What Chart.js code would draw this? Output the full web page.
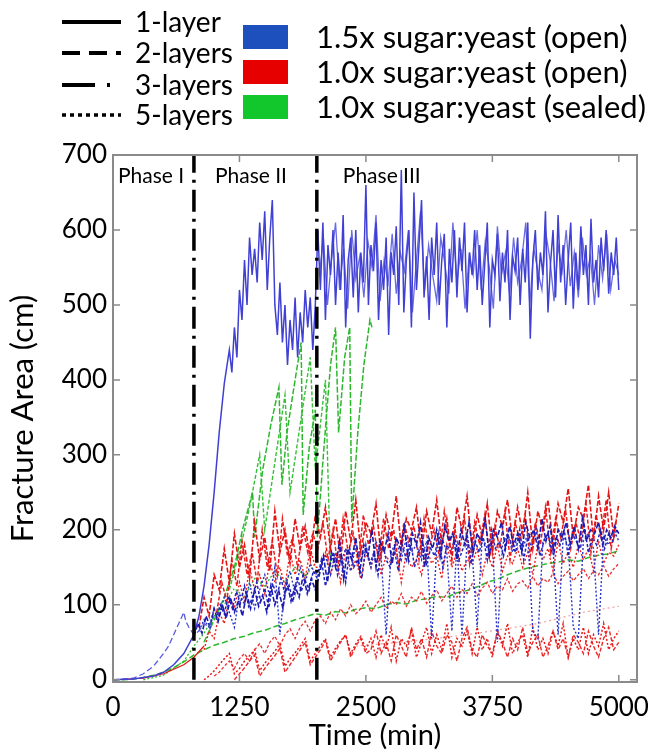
<!DOCTYPE html>
<html>
<head>
<meta charset="utf-8">
<script src="https://cdn.jsdelivr.net/npm/chart.js@4.4.1/dist/chart.umd.min.js"></script>
<style>
  body { margin: 0; background: #fff; }
  canvas { display: block; }
</style>
</head>
<body>
<canvas id="fractureChart" width="666" height="753"></canvas>
<script>
var X_TICKS = [0, 1250, 2500, 3750, 5000];
var Y_TICKS = [0, 100, 200, 300, 400, 500, 600, 700];
var PHASE_TIMES = [800, 2015];
var PHASE_NAMES = ['Phase I', 'Phase II', 'Phase III'];
var LAYER_NAMES = ['1-layer', '2-layers', '3-layers', '5-layers'];
var GROUP_NAMES = ['1.5x sugar:yeast (open)', '1.0x sugar:yeast (open)', '1.0x sugar:yeast (sealed)'];
var GROUP_COLORS = ['#1d4fbd', '#e60000', '#12c72c'];

// sampling grid helper (times only)
function steps(start, end, step) {
  var out = [];
  for (var t = start; t <= end; t += step) out.push(t);
  return out;
}

// 1.5x open, 1-layer (big one)
var blueSolidTimes = [0, 200, 400, 500, 600, 700, 800, 850, 900, 950, 1000, 1050, 1100, 1150].concat(steps(1175, 5000, 25));
var blueSolidVals = [0, 1, 5, 10, 20, 35, 60, 85, 125, 180, 250, 330, 395, 440,
  410, 470, 430, 520, 480, 560, 500, 590, 540, 575, 530, 610, 560, 625, 520, 590, 640, 500, 460, 530,
  450, 500, 420, 480, 440, 510, 430, 490, 450, 520, 470, 510, 440, 500,
  600, 520, 610, 480, 580, 540, 600, 500, 570, 520, 620, 470, 560, 590, 510, 600, 490, 570, 530, 660,
  500, 580, 545, 610, 480, 560, 520, 590, 460, 570, 540, 605, 500, 680, 490, 560, 600, 470, 650, 520,
  580, 640, 510, 565, 480, 590, 540, 610, 500, 560, 595, 470, 575, 530, 600, 510, 590, 545, 610, 490,
  570, 540, 600, 520, 580, 500, 555, 610, 470, 560, 540, 595, 505, 570, 530, 600, 480, 565, 545, 590,
  500, 575, 530, 610, 455, 560, 600, 520, 570, 540, 625, 490, 555, 600, 510, 620, 530, 580, 500, 560,
  610, 495, 570, 520, 605, 540, 580, 500, 615, 530, 560, 510, 590, 545, 600, 515, 570, 540, 590, 520];

var blueSolid2Times = steps(2040, 5000, 40);
var blueSolid2Vals = [540, 590, 500, 560, 610, 520, 575, 495, 600, 535, 565, 510, 585, 550, 620, 505, 560, 530, 595, 515,
  570, 545, 600, 490, 560, 625, 520, 580, 540, 505, 590, 555, 515, 610, 530, 575, 495, 565, 540, 600,
  520, 585, 550, 495, 605, 540, 570, 515, 590, 530, 560, 610, 500, 575, 545, 520, 595, 560, 505, 580,
  545, 600, 525, 570, 510, 590, 540, 565, 500, 580, 535, 595, 520, 560, 540];

// 1.5x open, multi-layer bands
var blueDashTimes = steps(800, 5000, 40);
var blueDashVals = [58, 75, 62, 85, 70, 95, 78, 100, 82, 110, 90, 105, 85, 115, 95, 120, 98, 112, 90, 125, 100, 118, 95, 130, 105, 125, 110, 140, 115, 135, 120,
  140, 165, 130, 170, 150, 185, 135, 175, 160, 190, 145, 180, 165, 200, 150, 185, 170, 195, 155, 190,
  175, 205, 160, 195, 180, 210, 150, 190, 175, 200, 165, 205, 185, 195, 160, 200, 180, 210, 170, 195,
  185, 215, 165, 200, 190, 210, 175, 205, 180, 195, 170, 210, 190, 200, 175, 215, 185, 205, 170, 200,
  190, 210, 180, 205, 175, 215, 185, 200, 195, 210, 180, 200, 190, 205, 195];

var blueDash2Times = steps(1020, 5000, 40);
var blueDash2Vals = [80, 100, 88, 112, 95, 118, 102, 125, 98, 110, 130, 105, 122, 96, 128, 110, 135, 115, 126, 104, 138, 118, 132, 120, 145,
  135, 160, 125, 150, 170, 140, 165, 130, 175, 150, 160, 135, 180, 155, 170, 140, 185, 160, 150, 175,
  145, 180, 160, 190, 150, 170, 185, 155, 175, 165, 195, 150, 180, 170, 190, 160, 175, 195, 155, 185,
  170, 190, 160, 200, 175, 185, 165, 195, 180, 170, 200, 160, 190, 175, 205, 165, 185, 195, 170, 190,
  180, 200, 165, 195, 185, 175, 205, 170, 190, 180, 200, 175, 195, 185, 200];

var blueDotTimes = steps(850, 5000, 50);
var blueDotVals = [65, 80, 70, 95, 85, 110, 90, 70, 115, 100, 130, 95, 120, 140, 110, 150, 60, 125, 145, 115, 150, 130, 155, 140,
  150, 165, 140, 170, 155, 175, 145, 180, 160, 175, 150, 185, 165, 60, 170, 185, 160, 190, 170, 180,
  160, 185, 55, 175, 190, 170, 65, 180, 60, 185, 170, 70, 190, 175, 185, 50, 180, 195, 170, 190,
  175, 195, 65, 55, 185, 195, 175, 60, 190, 180, 70, 55, 185, 195, 175, 60, 190, 180, 200, 185];

var blueEarlyTimes = [0, 200, 300, 400, 500, 550, 600, 650, 700, 720, 750, 800, 850, 900, 950, 1000];
var blueEarlyVals = [0, 2, 8, 18, 35, 45, 60, 75, 90, 78, 70, 60, 65, 75, 70, 85];

// 1.0x open
var redDashTimes = steps(850, 5000, 50);
var redDashVals = [70, 110, 85, 140, 120, 175, 130, 195, 150, 180, 135, 210, 160, 190, 145, 225, 170, 200, 155, 215, 175, 205, 160, 220,
  190, 230, 175, 215, 160, 225, 185, 240, 170, 210, 195, 235, 165, 220, 190, 245, 175, 215, 200, 230,
  170, 225, 195, 240, 180, 215, 160, 230, 200, 245, 175, 220, 190, 235, 170, 225, 205, 240, 185, 230,
  195, 250, 175, 225, 200, 240, 180, 235, 210, 255, 190, 230, 215, 260, 185, 245, 200, 250, 190, 235];

var redDash2Times = steps(1025, 5000, 50);
var redDash2Vals = [90, 130, 105, 160, 125, 185, 140, 170, 130, 200, 150, 185, 140, 215, 165, 190, 150, 205, 170, 195,
  175, 210, 160, 200, 150, 215, 170, 195, 155, 220, 180, 205, 160, 215, 175, 200, 150, 210, 185, 205,
  160, 215, 175, 200, 165, 225, 180, 205, 170, 215, 155, 210, 180, 220, 165, 205, 175, 225, 160, 210,
  185, 220, 165, 210, 180, 230, 170, 215, 190, 225, 175, 210, 185, 235, 170, 220, 190, 240, 175, 215];

var redDotTimes = steps(900, 5000, 50);
var redDotVals = [40, 65, 55, 90, 75, 110, 95, 130, 105, 150, 120, 140, 115, 160, 130, 150, 125, 170, 140, 160, 135, 175, 150,
  150, 170, 140, 165, 130, 175, 145, 160, 135, 170, 150, 180, 140, 165, 155, 175, 130, 170, 150, 160,
  140, 175, 155, 165, 135, 180, 150, 170, 145, 160, 155, 175, 140, 170, 150, 180, 145, 165, 155, 175,
  150, 170, 140, 180, 160, 175, 145, 185, 155, 170, 150, 180, 160, 175, 145, 185, 155, 170, 165, 180];

var redEarlyTimes = [0, 300, 500, 700, 800, 900];
var redEarlyVals = [0, 2, 8, 20, 30, 45];

var redLowTimes = steps(900, 5000, 50);
var redLowVals = [0, 5, 12, 20, 28, 35, 8, 15, 25, 32, 40, 12, 22, 30, 38, 48, 18, 28, 36, 45, 55, 25, 35, 45, 55, 30, 42, 52, 60, 35, 48, 58, 40,
  55, 30, 60, 40, 70, 25, 55, 45, 65, 30, 50, 70, 35, 60, 40, 75, 30, 55, 45, 65,
  35, 70, 40, 55, 30, 65, 45, 75, 35, 50, 60, 30, 70, 40, 55, 35, 65, 45, 75, 30,
  55, 40, 70, 35, 60, 45, 75, 40, 55, 65];

var redLow2Times = steps(1200, 5000, 50);
var redLow2Vals = [0, 8, 16, 25, 33, 5, 15, 24, 32, 42, 10, 20, 30, 40, 50, 20, 30, 40, 52, 25, 38, 50, 60, 30, 45, 55, 35,
  40, 65, 35, 50, 25, 60, 45, 30, 70, 40, 55, 30, 65, 45, 35, 60, 50, 25, 55, 70,
  40, 30, 60, 45, 35, 65, 50, 30, 55, 40, 70, 35, 50, 60, 30, 45, 65, 40, 55, 30,
  60, 50, 35, 65, 45, 30, 55, 70, 40, 50];

var redMidTimes = steps(1000, 5000, 50);
var redMidVals = [5, 10, 18, 25, 15, 28, 35, 25, 40, 48, 35, 50, 58, 45, 60, 68, 55, 70, 78, 65, 80,
  85, 75, 90, 80, 95, 85, 100, 88, 95, 105, 90, 100, 110, 95, 105, 100, 115, 98, 110, 105,
  118, 102, 112, 120, 105, 115, 125, 110, 120, 115, 128, 112, 122, 130, 115, 125, 120, 135, 118, 128,
  132, 122, 138, 125, 135, 130, 142, 128, 138, 145, 132, 140, 148, 135, 145, 140, 152, 138, 148, 155];

var redPinkTimes = [2400, 3000, 3600, 4200, 4650, 5000];
var redPinkVals = [45, 52, 62, 75, 90, 98];

// 1.0x sealed
var greenSawTimes = [900, 1000, 1100, 1200, 1280, 1380, 1400, 1480, 1560, 1640, 1670, 1720, 1800, 1860, 1880, 1940, 2000, 2020, 2080, 2150, 2200, 2230, 2290, 2340, 2360, 2420, 2480, 2540, 2560];
var greenSawVals = [50, 80, 110, 150, 200, 250, 190, 280, 340, 390, 260, 330, 400, 450, 220, 310, 360, 190, 300, 420, 470, 330, 430, 470, 210, 330, 420, 480, 470];

var greenSaw2Times = [1150, 1250, 1350, 1450, 1500, 1600, 1700, 1750, 1850, 1950, 2000, 2100, 2150];
var greenSaw2Vals = [120, 170, 230, 300, 200, 290, 380, 250, 340, 430, 280, 400, 150];

var greenDashTimes = steps(0, 5000, 100);
var greenDashVals = [0, 0, 1, 3, 6, 10, 16, 24, 33, 40, 46, 50, 55, 58, 63, 66, 71, 75, 80, 84, 88, 86, 91, 89, 94, 96, 95, 100, 103, 101,
  106, 108, 111, 110, 116, 119, 124, 130, 134, 140, 145, 149, 152, 155, 157, 160, 158, 163, 166, 168, 172];

var greenDotTimes = [300, 500, 700, 800, 900, 1000, 1100, 1200, 1300, 1400, 1500, 1600, 1700, 1800, 1900, 2000];
var greenDotVals = [0, 6, 25, 45, 62, 85, 100, 122, 110, 135, 125, 145, 130, 150, 138, 155];

function line(times, vals, color, width, dash) {
  return {
    data: times.map(function(t, i) { return { x: t, y: vals[i] }; }),
    borderColor: color,
    borderWidth: width,
    borderDash: dash || [],
    pointRadius: 0,
    fill: false,
    tension: 0
  };
}

function phaseLine(t) {
  return line([t, t], [Y_TICKS[0], Y_TICKS[Y_TICKS.length - 1]], '#000', 3.5, [22, 7, 3, 7]);
}

var framePlugin = {
  id: 'frame',
  afterDatasetsDraw: function(chart) {
    var ctx = chart.ctx, a = chart.chartArea, xs = chart.scales.x, ys = chart.scales.y;
    ctx.save();
    ctx.strokeStyle = '#8a8a8a';
    ctx.lineWidth = 2;
    ctx.strokeRect(a.left, a.top, a.right - a.left, a.bottom - a.top);
    ctx.lineWidth = 1.5;
    ctx.beginPath();
    X_TICKS.forEach(function(v) {
      var px = xs.getPixelForValue(v);
      ctx.moveTo(px, a.bottom); ctx.lineTo(px, a.bottom - 7);
      ctx.moveTo(px, a.top); ctx.lineTo(px, a.top + 7);
    });
    Y_TICKS.forEach(function(v) {
      var py = ys.getPixelForValue(v);
      ctx.moveTo(a.left, py); ctx.lineTo(a.left + 7, py);
      ctx.moveTo(a.right, py); ctx.lineTo(a.right - 7, py);
    });
    ctx.stroke();

    ctx.fillStyle = '#000';
    ctx.font = '21px Lato';
    ctx.textBaseline = 'middle';
    ctx.textAlign = 'left';
    var y = a.top + 21;
    ctx.fillText(PHASE_NAMES[0], a.left + 5, y);
    ctx.fillText(PHASE_NAMES[1], xs.getPixelForValue(PHASE_TIMES[0]) + 21, y);
    ctx.fillText(PHASE_NAMES[2], xs.getPixelForValue(PHASE_TIMES[1]) + 26, y);
    ctx.restore();
  }
};

var keyPlugin = {
  id: 'keyBox',
  afterDraw: function(chart) {
    var ctx = chart.ctx;
    ctx.save();
    var dashes = [[], [18, 9], [33, 12, 3, 12], [4, 4]];
    var rowY = [22, 53, 85, 115];
    ctx.textBaseline = 'middle';
    ctx.textAlign = 'left';
    LAYER_NAMES.forEach(function(name, i) {
      ctx.beginPath();
      ctx.setLineDash(dashes[i]);
      ctx.lineWidth = i == 3 ? 3.5 : 4;
      ctx.strokeStyle = '#000';
      ctx.moveTo(62, rowY[i]);
      ctx.lineTo(121, rowY[i]);
      ctx.stroke();
      ctx.setLineDash([]);
      ctx.font = '28px Lato';
      ctx.fillStyle = '#000';
      ctx.fillText(name, 135, rowY[i] + 1);
    });
    var boxY = [37, 72, 107];
    GROUP_NAMES.forEach(function(name, i) {
      ctx.fillStyle = GROUP_COLORS[i];
      ctx.fillRect(243, boxY[i] - 12, 45, 24);
      ctx.fillStyle = '#000';
      ctx.font = '31px Lato';
      ctx.fillText(name, 316, boxY[i] + 1);
    });
    ctx.restore();
  }
};

var ctx = document.getElementById('fractureChart').getContext('2d');
var fractureChart = new Chart(ctx, {
  type: 'line',
  data: {
    datasets: [
      phaseLine(PHASE_TIMES[0]),
      phaseLine(PHASE_TIMES[1]),
      line(blueSolidTimes, blueSolidVals, '#4040d4', 1.5),
      line(blueSolid2Times, blueSolid2Vals, '#6a6ae2', 1.3),
      line(blueEarlyTimes, blueEarlyVals, '#5a5ae0', 1.3, [6, 3]),
      line(blueDashTimes, blueDashVals, '#1a1ab0', 1.6, [5, 2]),
      line(redDashTimes, redDashVals, '#e41414', 1.6, [5, 2]),
      line(blueDash2Times, blueDash2Vals, '#2424bc', 1.5, [3, 2]),
      line(redDash2Times, redDash2Vals, '#ea1c1c', 1.5, [4, 2]),
      line(blueDotTimes, blueDotVals, '#2b35c8', 1.4, [2, 2]),
      line(redDotTimes, redDotVals, '#ee2020', 1.4, [2, 2]),
      line(greenSawTimes, greenSawVals, '#2cb82c', 1.5, [6, 2]),
      line(greenSaw2Times, greenSaw2Vals, '#35c035', 1.4, [4, 2]),
      line(redEarlyTimes, redEarlyVals, '#e41414', 1.2),
      line(redLowTimes, redLowVals, '#e81818', 1.5, [2, 2]),
      line(redLow2Times, redLow2Vals, '#ec2828', 1.4, [4, 2]),
      line(redMidTimes, redMidVals, '#e83030', 1.3, [3, 2]),
      line(greenDashTimes, greenDashVals, '#2cb82c', 1.5, [6, 3]),
      line(greenDotTimes, greenDotVals, '#30b830', 1.3, [2, 2]),
      line(redPinkTimes, redPinkVals, '#f09a9a', 1.2, [2, 3])
    ]
  },
  options: {
    responsive: false,
    animation: false,
    devicePixelRatio: 1,
    layout: { padding: { top: 155, right: 29, left: 0, bottom: 0 } },
    plugins: { legend: { display: false }, tooltip: { enabled: false } },
    scales: {
      x: {
        type: 'linear',
        min: 0,
        max: 5180,
        afterBuildTicks: function(s) { s.ticks = X_TICKS.map(function(v) { return { value: v }; }); },
        afterFit: function(s) { s.height = 71; },
        grid: { display: false, drawTicks: false },
        border: { display: false },
        ticks: {
          color: '#000',
          padding: 10,
          maxRotation: 0,
          autoSkip: false,
          font: { family: 'Lato', size: 26 },
          callback: function(v) { return String(v); }
        },
        title: { display: true, text: 'Time (min)', color: '#000', font: { family: 'Lato', size: 29 }, padding: { top: 0, bottom: 0 } }
      },
      y: {
        min: -3,
        max: 700,
        afterBuildTicks: function(s) { s.ticks = Y_TICKS.map(function(v) { return { value: v }; }); },
        afterFit: function(s) { s.width = 113; },
        grid: { display: false, drawTicks: false },
        border: { display: false },
        ticks: {
          color: '#000',
          padding: 6,
          font: { family: 'Lato', size: 26 },
          callback: function(v) { return String(v); }
        },
        title: { display: true, text: 'Fracture Area (cm)', color: '#000', font: { family: 'Lato', size: 31 }, padding: { top: 4, bottom: 0 } }
      }
    }
  },
  plugins: [framePlugin, keyPlugin]
});
</script>
</body>
</html>
